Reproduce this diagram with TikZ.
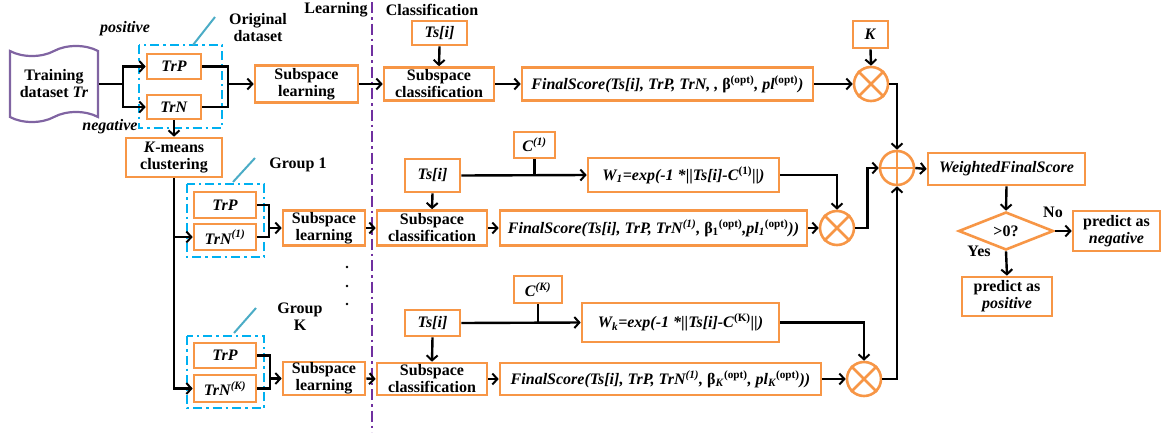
\documentclass[tikz,border=0pt]{standalone}
\usepackage{fontspec}
\setmainfont{Liberation Serif}
\usetikzlibrary{arrows.meta,shapes.geometric,shapes.symbols}
\definecolor{orb}{RGB}{247,150,70}
\definecolor{cyb}{RGB}{0,176,240}
\definecolor{tealb}{RGB}{75,172,198}
\definecolor{purl}{RGB}{112,48,160}
\definecolor{purt}{RGB}{128,100,162}
\newcommand{\fnt}{\fontsize{16}{17}\selectfont\bfseries}
\newcommand{\sps}[1]{\textsuperscript{#1}}
\newcommand{\sbs}[1]{\textsubscript{#1}}
\begin{document}
\begin{tikzpicture}[x=1pt,y=-1pt,
  every node/.style={font=\fnt},
  bx/.style 2 args={draw=orb,line width=2.6pt,fill=white,align=center,inner sep=0pt,minimum width=#1,minimum height=#2},
  crc/.style={draw=orb,line width=2.6pt,circle,minimum size=34,inner sep=0pt},
  ln/.style={line width=2.4pt,black},
  arr/.style={ln,-{Straight Barb[length=5pt,width=11pt,line width=2pt]}},
  grp/.style={draw=cyb,line width=2.6pt,dash pattern=on 9pt off 4pt on 2.5pt off 4pt},
  slash/.style={draw=tealb,line width=2pt},
  lbl/.style={font=\fnt,align=center,inner sep=0pt},
  ilbl/.style={font=\fnt\itshape,inner sep=0pt}]
\useasboundingbox (0,0) rectangle (1161,434);

% separator
\draw[purl,line width=2.6pt,dash pattern=on 11pt off 4pt on 2.5pt off 4pt] (372,2) -- (372,432);
\node[lbl] (tlearn) at (336,10) {Learning};
\node[lbl] (tclass) at (432,10) {Classification};

% training dataset
\node[tape,draw=purt,line width=2.2pt,minimum width=88,minimum height=76,tape bend height=10,align=center,inner sep=0pt] (train) at (54,84) {Training\\dataset \textit{Tr}};
\coordinate (sp) at (123,84);

% original dataset group
\draw[grp] (139,45) rectangle (222,128);
\draw[slash] (193,45) -- (215,17);
\node[lbl] (torig) at (258,28) {Original\\dataset};
\node[ilbl] (tpos) at (125,29) {positive};
\node[ilbl] (tneg) at (110,127) {negative};
\node[bx={54}{25}] (trp0) at (174,66.5) {\textit{TrP}};
\node[bx={54}{24}] (trn0) at (174,107) {\textit{TrN}};
\node[bx={103}{37}] (sl0) at (306.5,84) {Subspace\\learning};
\coordinate (j0) at (228,84);

\node[bx={55}{24}] (ts0) at (439.5,33) {\textit{Ts[i]}};
\node[bx={110}{33}] (sc0) at (439,84) {Subspace\\classification};
\node[bx={291}{33}] (fs0) at (667.5,84) {\textit{FinalScore(Ts[i], TrP, TrN, , }β\sps{(opt)}\textit{, pl}\sps{(opt)}\textit{)}};
\node[bx={35}{27}] (k) at (870.5,34.5) {\textit{K}};
\node[crc] (ox0) at (871,84) {};
\node[crc] (op) at (897,168) {};

% k-means
\node[bx={96}{39}] (km) at (174,157.5) {\textit{K}-means\\clustering};

% group 1
\draw[grp] (187,184) rectangle (264,257);
\draw[slash] (233,182) -- (255,158);
\node[lbl] (tg1) at (298,165) {Group 1};
\node[bx={62}{26}] (trp1) at (225,205) {\textit{TrP}};
\node[bx={62}{26}] (trn1) at (225,237) {\textit{TrN\sps{(1)}}};
\coordinate (j1) at (269,228);
\node[bx={82}{35}] (sl1) at (324,228) {Subspace\\learning};
\node[bx={55}{33}] (ts1) at (432.5,175.5) {\textit{Ts[i]}};
\node[bx={41}{26}] (c1) at (534.5,145) {\textit{C\sps{(1)}}};
\node[bx={191}{34}] (w1) at (683.5,175) {\textit{W\sbs{1}=exp(-1 *}||\textit{Ts[i]-C}\sps{(1)}||\textit{)}};
\node[bx={110}{35}] (sc1) at (432,228) {Subspace\\classification};
\node[bx={307}{35}] (fs1) at (653.5,228) {\textit{FinalScore(Ts[i], TrP, TrN\sps{(1)}, }β\sbs{1}\sps{(opt)}\textit{,pl\sbs{1}}\sps{(opt)}\textit{))}};
\node[crc] (ox1) at (837,228) {};

% dots
\fill (347,267) circle (1.4);
\fill (347,286) circle (1.4);
\fill (347,304) circle (1.4);

% group K
\draw[grp] (187,336) rectangle (264,408);
\draw[slash] (234,333) -- (256,308);
\node[lbl] (tgk) at (300,317) {Group\\K};
\node[bx={62}{25}] (trpK) at (225,355.5) {\textit{TrP}};
\node[bx={62}{27}] (trnK) at (225,388.5) {\textit{TrN\sps{(K)}}};
\coordinate (jK) at (270,378.5);
\node[bx={82}{33}] (slK) at (324,378.5) {Subspace\\learning};
\node[bx={55}{26}] (tsK) at (432.5,323) {\textit{Ts[i]}};
\node[bx={48}{27}] (cK) at (538,289.5) {\textit{C\sps{(K)}}};
\node[bx={197}{39}] (wK) at (680.5,322.5) {\textit{W\sbs{k}=exp(-1 *}||\textit{Ts[i]-C}\sps{(K)}||\textit{)}};
\node[bx={110}{32}] (scK) at (432,379) {Subspace\\classification};
\node[bx={321}{32}] (fsK) at (660.5,379) {\textit{FinalScore(Ts[i], TrP, TrN\sps{(1)}, }β\sbs{\textit{K}}\sps{(opt)}\textit{, pl\sbs{K}}\sps{(opt)}\textit{))}};
\node[crc] (oxK) at (864,379) {};

% decision
\node[bx={157}{32}] (wfs) at (1006.5,169) {\textit{WeightedFinalScore}};
\node[diamond,draw=orb,line width=2.6pt,fill=white,minimum width=95,minimum height=38,inner sep=0pt,aspect=2.5] (dia) at (1006,231) {>0?};
\node[bx={87}{40}] (neg) at (1116.5,231) {predict as\\\textit{negative}};
\node[bx={90}{39}] (pos) at (1007,296.5) {predict as\\\textit{positive}};
\node[lbl] (tno) at (1053,212) {No};
\node[lbl] (tyes) at (979,251) {Yes};

% circle marks
\foreach \c in {ox0,ox1,oxK}{
  \draw[orb,line width=2.6pt] (\c.north west) -- (\c.south east) (\c.north east) -- (\c.south west);
}
\draw[orb,line width=2.6pt] (op.north) -- (op.south) (op.west) -- (op.east);

% connectors
\draw[ln] (train.east) -- (sp);
\draw[arr] (sp) |- (trp0.west);
\draw[arr] (sp) |- (trn0.west);
\draw[ln] (trp0.east) -| (j0) |- (trn0.east);
\draw[arr] (j0) -- (sl0.west);
\draw[arr] (sl0.east) -- (sc0.west);
\draw[arr] (ts0.south) -- (sc0.north);
\draw[arr] (sc0.east) -- (fs0.west);
\draw[arr] (fs0.east) -- (ox0.west);
\draw[arr] (k.south) -- (ox0.north);
\draw[arr] (ox0.east) -| (op.north);

\draw[arr] (trn0.south) -- (km.north);
\draw[arr] (km.south) |- (trn1.west);
\draw[arr] (km.south) |- (trnK.west);

\draw[ln] (trp1.east) -| (j1) |- (trn1.east);
\draw[arr] (j1) -- (sl1.west);
\draw[arr] (sl1.east) -- (sc1.west);
\draw[arr] (ts1.south) -- (sc1.north);
\draw[arr] (ts1.east) -- (w1.west);
\draw[ln] (c1.south) -- (c1.south |- ts1.east);
\draw[arr] (sc1.east) -- (fs1.west);
\draw[arr] (fs1.east) -- (ox1.west);
\draw[arr] (w1.east) -| (ox1.north);
\draw[arr] (ox1.east) -- ++(12,0) |- (op.west);

\draw[ln] (trpK.east) -| (jK) |- (trnK.east);
\draw[arr] (jK) -- (slK.west);
\draw[arr] (slK.east) -- (scK.west);
\draw[arr] (tsK.south) -- (scK.north);
\draw[arr] (tsK.east) -- (wK.west);
\draw[ln] (cK.south) -- (cK.south |- tsK.east);
\draw[arr] (scK.east) -- (fsK.west);
\draw[arr] (fsK.east) -- (oxK.west);
\draw[arr] (wK.east) -| (oxK.north);
\draw[arr] (oxK.east) -| (op.south);

\draw[arr] (op.east) -- (wfs.west);
\draw[arr] (wfs.south) -- (dia.north);
\draw[arr] (dia.east) -- (neg.west);
\draw[arr] (dia.south) -- (pos.north);
\end{tikzpicture}
\end{document}
